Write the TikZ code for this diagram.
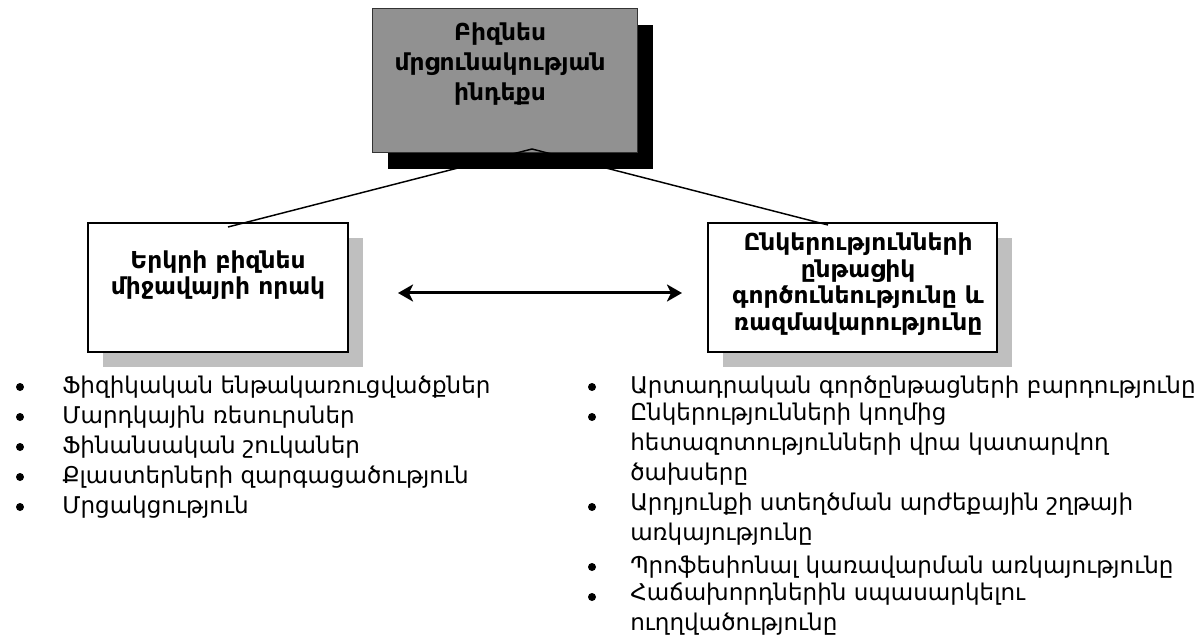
\documentclass[tikz,border=0pt]{standalone}
\usepackage{fontspec}
\setmainfont{DejaVu Sans}
\usetikzlibrary{shadows,arrows.meta}

\begin{document}
\begin{tikzpicture}[
			x=0.75pt, y=-0.75pt,
			indexbox/.style = {draw=black!80, line width=0.75pt, fill=black!43, minimum width=198.75pt, minimum height=108pt, drop shadow={shadow xshift=12pt, shadow yshift=-12pt, fill=black, opacity=1}},
			factorbox/.style = {draw, line width=1.5pt, fill=white, minimum height=96.75pt, drop shadow={shadow xshift=11.25pt, shadow yshift=-11.25pt, fill=black!25, opacity=1}},
			boxtext/.style = {align=center, font=\fontsize{17.5}{20}\selectfont\bfseries},
			itemtext/.style = {anchor=north west, inner sep=0pt, align=left, font=\fontsize{17.3}{22.5}\selectfont, execute at begin node=\strut},
			itemdot/.style = {circle, fill, inner sep=0pt, minimum size=6pt},
		]
		\path[use as bounding box] (0,0) rectangle (1204,638);
		\node[indexbox] (index) at (504.5,81) {};
		\node[boxtext, font=\fontsize{17.5}{22.5}\selectfont\bfseries] (indextext) at (500,64) {Բիզնես\\մրցունակության\\ինդեքս};
		\node[factorbox, minimum width=195pt] (env) at (218,287.5) {};
		\node[boxtext] (envtext) at (218,275) {Երկրի բիզնես\\միջավայրի որակ};
		\node[factorbox, minimum width=216.75pt] (firm) at (852.5,287.5) {};
		\node[boxtext] (firmtext) at (858,284) {Ընկերությունների\\ընթացիկ\\գործունեությունը և\\ռազմավարությունը};
		\coordinate (hub) at (532,149);
		\draw[line width=1.1pt] (hub) -- ([shift={(10,5)}]env.north);
		\draw[line width=1.1pt] (hub) -- ([shift={(-24.5,3)}]firm.north);
		\draw[{Stealth[length=11.25pt, width=12.75pt, inset=3pt]}-{Stealth[length=11.25pt, width=12.75pt, inset=3pt]}, line width=2.25pt, shorten <=36.75pt, shorten >=18.75pt] ([shift={(0,5.5)}]env.east) -- ([shift={(0,5.5)}]firm.west);
		\node[itemdot] (infradot) at (20,387) {};
		\node[itemtext] (infra) at (62,372.5) {Ֆիզիկական ենթակառուցվածքներ};
		\node[itemdot] (humandot) at (20,417) {};
		\node[itemtext] (human) at (62,402.5) {Մարդկային ռեսուրսներ};
		\node[itemdot] (financedot) at (20,447) {};
		\node[itemtext] (finance) at (62,432.5) {Ֆինանսական շուկաներ};
		\node[itemdot] (clusterdot) at (20,477) {};
		\node[itemtext] (cluster) at (62,462.5) {Քլաստերների զարգացածություն};
		\node[itemdot] (rivalrydot) at (20,507) {};
		\node[itemtext] (rivalry) at (62,492.5) {Մրցակցություն};
		\node[itemdot] (proddot) at (592,387) {};
		\node[itemtext] (prod) at (630,372.5) {Արտադրական գործընթացների բարդությունը};
		\node[itemdot] (rnddot) at (592,417) {};
		\node[itemtext] (rnd) at (630,402.5) {Ընկերությունների կողմից\\հետազոտությունների վրա կատարվող\\ծախսերը};
		\node[itemdot] (valuedot) at (592,507) {};
		\node[itemtext] (value) at (630,492.5) {Արդյունքի ստեղծման արժեքային շղթայի\\առկայությունը};
		\node[itemdot] (mgmtdot) at (592,567) {};
		\node[itemtext] (mgmt) at (630,552.5) {Պրոֆեսիոնալ կառավարման առկայությունը};
		\node[itemdot] (clientdot) at (592,597) {};
		\node[itemtext] (client) at (630,582.5) {Հաճախորդներին սպասարկելու\\ուղղվածությունը};
	\end{tikzpicture}
\end{document}
